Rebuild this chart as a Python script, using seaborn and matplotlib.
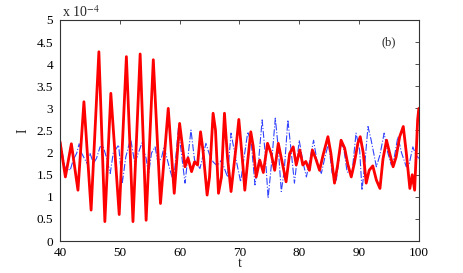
import numpy as np
import pandas as pd
import seaborn as sns
import matplotlib
matplotlib.use("Agg")
import matplotlib.pyplot as plt

# values (I in units of 1e-4)
t_red = [40.0, 40.9, 41.9, 43.0, 44.0, 45.2, 46.5, 47.5, 48.5, 49.9,
         51.1, 52.2, 53.4, 54.4, 55.6, 56.8, 58.1, 59.1, 60.0, 60.9,
         61.4, 62.0, 62.5, 63.0, 63.5, 63.9, 64.6, 65.0, 65.6, 66.0,
         66.5, 67.0, 67.5, 68.0, 68.6, 69.5, 69.9, 70.6, 70.9, 71.4,
         71.9, 72.3, 72.8, 73.4, 74.0, 74.7, 75.3, 75.9, 76.5, 77.3,
         77.8, 78.4, 79.0, 79.5, 80.1, 80.6, 81.1, 81.7, 82.2, 82.8,
         83.4, 84.0, 84.8, 85.3, 85.9, 86.4, 87.0, 87.6, 88.1, 88.7,
         89.2, 89.8, 90.2, 90.7, 91.2, 91.7, 92.3, 92.9, 93.5, 94.0,
         94.6, 95.1, 95.7, 96.2, 96.8, 97.4, 97.9, 98.5, 98.9, 99.3,
         99.8, 100.0]
i_red = [2.25, 1.45, 2.2, 1.15, 3.15, 0.7, 4.28, 0.44, 3.34, 0.6,
         4.17, 0.44, 4.23, 0.47, 4.1, 0.85, 3.0, 1.08, 2.66, 1.68,
         1.88, 1.57, 1.79, 1.72, 2.47, 2.06, 1.04, 1.45, 2.89, 2.51,
         1.08, 1.45, 2.89, 1.9, 1.12, 2.21, 2.75, 1.68, 1.15, 1.83,
         2.47, 2.15, 1.45, 1.83, 1.55, 2.21, 1.98, 1.6, 2.21, 1.68,
         1.34, 1.98, 2.13, 1.72, 2.06, 1.72, 1.8, 1.6, 2.06, 1.85,
         1.6, 1.95, 2.36, 1.98, 1.31, 1.7, 2.28, 2.1, 1.75, 1.45,
         1.75, 2.21, 2.36, 2.0, 1.31, 1.6, 1.7, 1.38, 1.19, 1.85,
         2.28, 2.0, 1.68, 1.9, 2.36, 2.59, 2.0, 1.19, 1.5, 1.15,
         2.74, 3.0]

t_blue = [40.0, 40.8, 41.7, 42.2, 42.8, 43.2, 43.6, 44.5, 45.0, 45.6,
          46.1, 46.7, 47.2, 47.8, 48.4, 48.9, 49.8, 50.4, 51.0, 51.8,
          52.5, 53.1, 53.7, 54.4, 54.8, 55.3, 55.9, 56.4, 57.0, 57.4,
          58.4, 59.0, 59.8, 60.9, 61.9, 62.5, 63.4, 64.4, 65.0, 65.6,
          66.3, 67.0, 68.0, 68.6, 69.2, 70.2, 71.4, 72.0, 72.6, 73.2,
          73.8, 74.3, 74.8, 75.4, 76.0, 76.5, 77.0, 77.5, 78.1, 78.6,
          79.2, 80.0, 80.6, 81.2, 81.8, 82.4, 83.1, 83.7, 84.3, 84.9,
          85.5, 86.2, 87.0, 87.5, 88.0, 88.8, 89.5, 90.1, 90.5, 91.0,
          91.5, 92.0, 92.9, 93.5, 94.2, 94.8, 95.4, 95.9, 96.5, 97.1,
          97.9, 98.4, 99.0, 99.5, 100.0]
i_blue = [2.3, 1.68, 1.6, 1.83, 1.99, 2.2, 1.99, 1.76, 1.99, 1.76,
          1.87, 2.13, 2.15, 1.87, 1.53, 1.99, 2.17, 1.3, 1.9, 2.32,
          1.76, 1.99, 2.22, 1.87, 1.5, 1.99, 2.13, 1.76, 1.9, 2.13,
          1.6, 1.34, 2.55, 1.31, 2.51, 1.83, 1.64, 2.21, 1.95, 1.79,
          1.7, 1.83, 1.45, 2.44, 2.0, 1.34, 2.47, 2.2, 1.27, 1.8,
          2.74, 2.0, 0.97, 1.8, 2.78, 2.1, 1.12, 1.6, 2.74, 2.1,
          1.31, 2.28, 1.8, 1.45, 1.85, 2.28, 1.7, 1.53, 1.9, 2.21,
          1.54, 1.38, 2.21, 2.05, 1.57, 1.5, 2.44, 2.06, 1.15, 1.8,
          2.59, 2.3, 1.68, 1.95, 2.44, 2.0, 1.72, 1.9, 2.36, 2.0,
          1.68, 1.75, 2.13, 1.95, 1.87]

x_ticks = [40, 50, 60, 70, 80, 90, 100]
y_ticks = [0, 0.5, 1, 1.5, 2, 2.5, 3, 3.5, 4, 4.5, 5]
y_labels = ["0", "0.5", "1", "1.5", "2", "2.5", "3", "3.5", "4", "4.5", "5"]

sns.set_style("white")
plt.rcParams['font.family'] = ['Liberation Serif', 'DejaVu Serif']
plt.rcParams['mathtext.fontset'] = 'stix'

fig = plt.figure(figsize=(4.63, 2.73), dpi=100)
ax = fig.add_axes([0.1296, 0.117, 0.775, 0.81])

sns.lineplot(x=t_blue, y=i_blue, ax=ax, color="#3344ff", linewidth=0.8,
             linestyle="-.", sort=False, estimator=None)
sns.lineplot(x=t_red, y=i_red, ax=ax, color="#ff0000", linewidth=2.0,
             sort=False, estimator=None)

ax.set_xlim(40, 100)
ax.set_ylim(0, 5)
ax.set_xticks(x_ticks)
ax.set_yticks(y_ticks)
ax.set_yticklabels(y_labels)
ax.tick_params(direction="in", length=3, width=0.6, top=True, right=True,
               labelsize=9.5, colors="#333333", labelcolor="black")
ax.tick_params(axis="x", pad=4)
ax.tick_params(axis="y", pad=5)
for s in ax.spines.values():
    s.set_color("#333333")
    s.set_linewidth(0.8)

ax.set_xlabel("t", fontsize=10, labelpad=-1)
ax.set_ylabel("I", fontsize=10, labelpad=5)
ax.text(0.005, 1.0, r"x 10$^{-4}$", transform=ax.transAxes, fontsize=10,
        va="bottom", ha="left")
ax.text(0.915, 0.9, "(b)", transform=ax.transAxes, fontsize=9,
        va="center", ha="center")

fig.savefig("out.png", dpi=100)
